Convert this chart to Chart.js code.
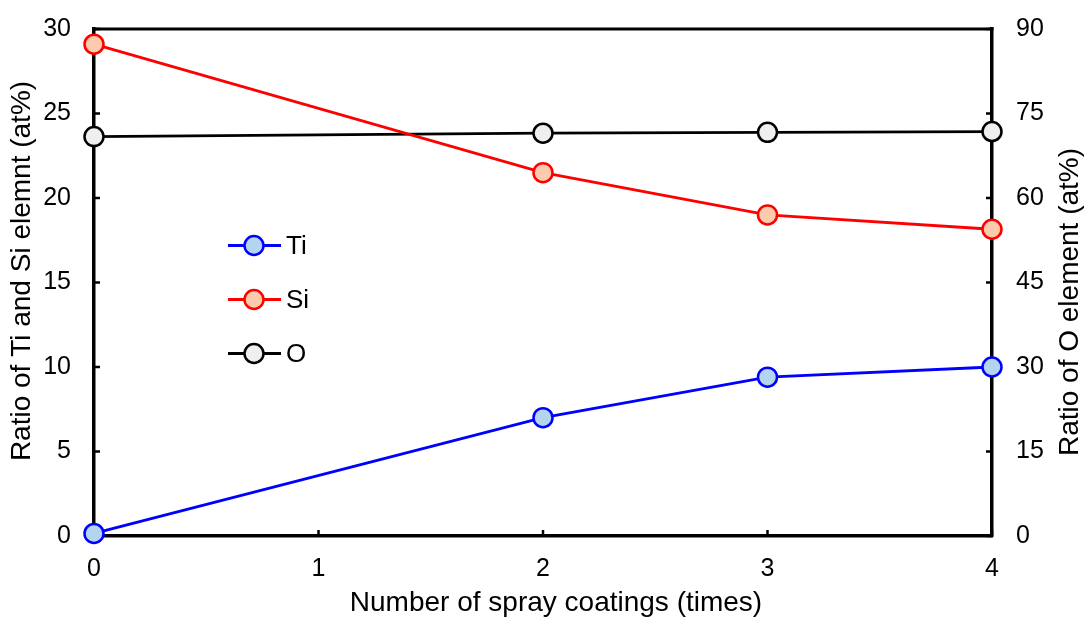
<!DOCTYPE html>
<html>
<head>
<meta charset="utf-8">
<script src="https://cdn.jsdelivr.net/npm/chart.js@4.4.0/dist/chart.umd.min.js"></script>
<style>
html,body{margin:0;padding:0;background:#fff;}
#wrap{width:1085px;height:617px;position:relative;}
</style>
</head>
<body>
<div id="wrap"><canvas id="c" width="1085" height="617"></canvas></div>
<script>
const sprayCoatings = [0, 2, 3, 4];
const tiValues = [0.15, 7.0, 9.4, 10.0];
const siValues = [29.1, 21.5, 19.0, 18.15];
const oValues = [70.9, 71.5, 71.65, 71.8];
const seriesNames = ['Ti', 'Si', 'O'];
const xTitle = 'Number of spray coatings (times)';
const yLeftTitle = 'Ratio of Ti and Si elemnt (at%)';
const yRightTitle = 'Ratio of O element (at%)';

const FONT = "'Liberation Sans', Arial, sans-serif";
const toPts = vals => sprayCoatings.map((x, i) => ({x: x, y: vals[i]}));

const mk = (label, vals, line, fill, axis) => ({
  label, data: toPts(vals), yAxisID: axis,
  borderColor: line, backgroundColor: fill,
  pointBackgroundColor: fill, pointBorderColor: line,
  pointRadius: 9.5, pointHoverRadius: 9.5, pointBorderWidth: 2.5,
  borderWidth: 2.8, tension: 0, clip: false
});

const frameAndTicks = {
  id: 'frameAndTicks',
  beforeDatasetsDraw(chart) {
    const {ctx, chartArea: a, scales} = chart;
    ctx.save();
    ctx.strokeStyle = '#000';
    ctx.lineWidth = 2.5;
    const len = 6;
    scales.y.ticks.forEach(t => {
      const p = scales.y.getPixelForValue(t.value);
      ctx.beginPath(); ctx.moveTo(a.left, p); ctx.lineTo(a.left + len, p); ctx.stroke();
    });
    scales.y2.ticks.forEach(t => {
      const p = scales.y2.getPixelForValue(t.value);
      ctx.beginPath(); ctx.moveTo(a.right, p); ctx.lineTo(a.right - len, p); ctx.stroke();
    });
    scales.x.ticks.forEach(t => {
      const p = scales.x.getPixelForValue(t.value);
      ctx.beginPath(); ctx.moveTo(p, a.bottom); ctx.lineTo(p, a.bottom - len); ctx.stroke();
    });
    ctx.lineWidth = 3;
    ctx.beginPath(); ctx.moveTo(a.left - 1.5, a.top); ctx.lineTo(a.right + 1.5, a.top); ctx.stroke();
    ctx.restore();
  },
  afterDraw(chart) {
    const ctx = chart.ctx;
    ctx.save();
    ctx.fillStyle = '#000';
    ctx.font = "28px " + FONT;
    ctx.textAlign = 'center';
    ctx.textBaseline = 'middle';
    ctx.fillText(xTitle, 556, 603);
    ctx.save();
    ctx.translate(22, 271);
    ctx.rotate(-Math.PI / 2);
    ctx.fillText(yLeftTitle, 0, 0);
    ctx.restore();
    ctx.save();
    ctx.translate(1070, 302);
    ctx.rotate(-Math.PI / 2);
    ctx.fillText(yRightTitle, 0, 0);
    ctx.restore();
    ctx.restore();
  }
};

const customLegend = {
  id: 'customLegend',
  afterDraw(chart) {
    const ctx = chart.ctx;
    const x0 = 228, x1 = 281, cx = 254, tx = 286;
    const ys = [245.5, 299.5, 353.5];
    chart.data.datasets.forEach((ds, i) => {
      const y = ys[i];
      ctx.save();
      ctx.strokeStyle = ds.borderColor; ctx.lineWidth = 2.8;
      ctx.beginPath(); ctx.moveTo(x0, y); ctx.lineTo(x1, y); ctx.stroke();
      ctx.beginPath(); ctx.arc(cx, y, 9.5, 0, Math.PI * 2);
      ctx.fillStyle = ds.backgroundColor; ctx.fill();
      ctx.lineWidth = 2.5; ctx.stroke();
      ctx.fillStyle = '#000';
      ctx.font = "26px " + FONT;
      ctx.textBaseline = 'middle'; ctx.textAlign = 'left';
      ctx.fillText(ds.label, tx, y + 1);
      ctx.restore();
    });
  }
};

const noPad = s => { s.paddingTop = 0; s.paddingBottom = 0; s.paddingLeft = 0; s.paddingRight = 0; };

new Chart(document.getElementById('c'), {
  type: 'line',
  data: {
    datasets: [
      mk(seriesNames[0], tiValues, '#0000FF', '#B4D5F0', 'y'),
      mk(seriesNames[1], siValues, '#FF0000', '#FCCBAE', 'y'),
      mk(seriesNames[2], oValues, '#000000', '#EFEFEF', 'y2')
    ]
  },
  options: {
    responsive: false,
    animation: false,
    devicePixelRatio: 1,
    layout: {padding: {top: 29, left: 0, right: 0, bottom: 0}},
    plugins: {legend: {display: false}, tooltip: {enabled: false}},
    scales: {
      x: {
        type: 'linear', min: 0, max: 4,
        ticks: {stepSize: 1, color: '#000', font: {family: FONT, size: 25}, padding: 18},
        grid: {display: false, drawTicks: false},
        border: {display: true, color: '#000', width: 3.5},
        afterFit: s => { s.height = 81; noPad(s); }
      },
      y: {
        position: 'left', min: 0, max: 30,
        ticks: {stepSize: 5, color: '#000', font: {family: FONT, size: 25}, padding: 23},
        grid: {display: false, drawTicks: false},
        border: {display: true, color: '#000', width: 3.5},
        afterFit: s => { s.width = 94; noPad(s); }
      },
      y2: {
        position: 'right', min: 0, max: 90,
        ticks: {stepSize: 15, color: '#000', font: {family: FONT, size: 25}, padding: 24},
        grid: {display: false, drawTicks: false},
        border: {display: true, color: '#000', width: 3.5},
        afterFit: s => { s.width = 93; noPad(s); }
      }
    }
  },
  plugins: [frameAndTicks, customLegend]
});
</script>
</body>
</html>
